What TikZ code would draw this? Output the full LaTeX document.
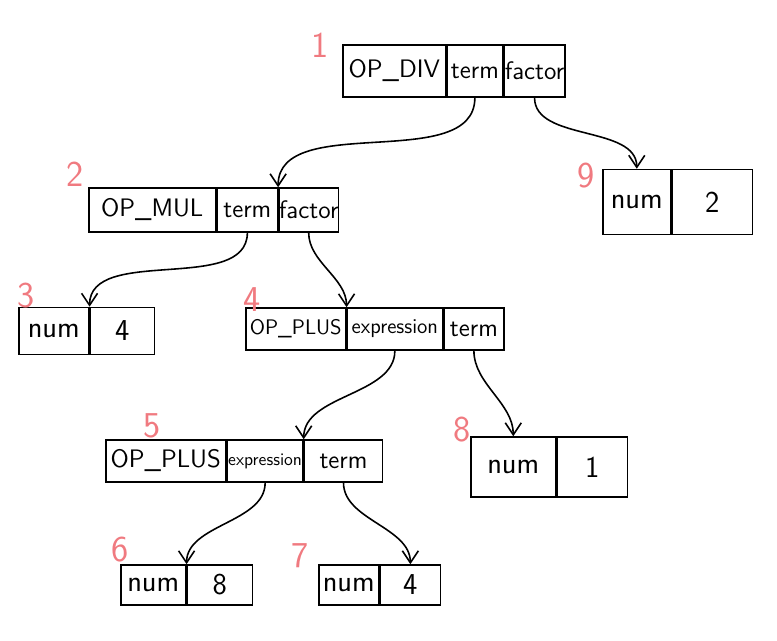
\documentclass[tikz,border=0pt]{standalone}
\usetikzlibrary{arrows.meta, positioning}
\definecolor{cpink}{HTML}{F07A80}
\tikzset{
  every picture/.style={font=\sffamily, line width=0.9pt},
  cell/.style={draw, inner sep=0.5pt, align=center, font=\sffamily\Large},
  leaf/.style={cell, font=\sffamily\LARGE},
  link/.style={-{Straight Barb[length=2.4mm, width=3.2mm]}, line width=0.9pt},
  tag/.style={font=\sffamily\huge, text=cpink},
}

\begin{document}
\begin{tikzpicture}[x=0.02cm, y=-0.02cm]
  \useasboundingbox (0,0) rectangle (777,640);
  % record 1
  \node[cell, anchor=west, minimum width=2.06cm, minimum height=1.04cm] (d-op) at (342,71) {OP\_DIV};
  \node[cell, right=0pt of d-op, minimum width=1.1cm, minimum height=1.04cm] (d-term) {term};
  \node[cell, right=0pt of d-term, minimum width=1.2cm, minimum height=1.04cm] (d-fac) {factor};
  % record 2
  \node[cell, anchor=west, minimum width=2.54cm, minimum height=0.88cm] (m-op) at (88,210) {OP\_MUL};
  \node[cell, right=0pt of m-op, minimum width=1.2cm, minimum height=0.88cm] (m-term) {term};
  \node[cell, right=0pt of m-term, minimum width=1.0cm, minimum height=0.88cm, inner sep=0pt] (m-fac) {factor};
  % record 3
  \node[leaf, anchor=west, minimum width=1.4cm, minimum height=0.94cm] (a-num) at (18,331) {num};
  \node[leaf, right=0pt of a-num, minimum width=1.28cm, minimum height=0.94cm] (a-val) {4};
  % record 4
  \node[cell, anchor=west, minimum width=2.0cm, minimum height=0.84cm, font=\sffamily\large] (p-op) at (245,329) {OP\_PLUS};
  \node[cell, right=0pt of p-op, minimum width=1.9cm, minimum height=0.84cm, font=\sffamily\large] (p-expr) {expression};
  \node[cell, right=0pt of p-expr, minimum width=1.2cm, minimum height=0.84cm] (p-term) {term};
  % record 5
  \node[cell, anchor=west, minimum width=2.4cm, minimum height=0.84cm] (q-op) at (105,461) {OP\_PLUS};
  \node[cell, right=0pt of q-op, minimum width=1.5cm, minimum height=0.84cm, font=\sffamily] (q-expr) {expression};
  \node[cell, right=0pt of q-expr, minimum width=1.56cm, minimum height=0.84cm] (q-term) {term};
  % leaves
  \node[leaf, anchor=west, minimum width=1.36cm, minimum height=1.3cm] (n-num) at (602,202) {num};
  \node[leaf, right=0pt of n-num, minimum width=1.6cm, minimum height=1.3cm] (n-val) {2};
  \node[leaf, anchor=west, minimum width=1.7cm, minimum height=1.2cm] (e-num) at (470,467) {num};
  \node[leaf, right=0pt of e-num, minimum width=1.4cm, minimum height=1.2cm] (e-val) {1};
  \node[leaf, anchor=west, minimum width=1.3cm, minimum height=0.8cm] (s-num) at (120,585) {num};
  \node[leaf, right=0pt of s-num, minimum width=1.3cm, minimum height=0.8cm] (s-val) {8};
  \node[leaf, anchor=west, minimum width=1.2cm, minimum height=0.8cm] (t-num) at (318,585) {num};
  \node[leaf, right=0pt of t-num, minimum width=1.2cm, minimum height=0.8cm] (t-val) {4};
  % numbers
  \node[tag] (lbl1) at (320,45) {1};
  \node[tag] (lbl2) at (75,174) {2};
  \node[tag] (lbl3) at (26,296) {3};
  \node[tag] (lbl4) at (252,300) {4};
  \node[tag] (lbl5) at (152,426) {5};
  \node[tag] (lbl6) at (120,550) {6};
  \node[tag] (lbl7) at (300,556) {7};
  \node[tag] (lbl8) at (462,430) {8};
  \node[tag] (lbl9) at (586,176) {9};
  % pointers
  \draw[link] (d-term.south) to[out=-90, in=90, looseness=0.9] (m-term.north east);
  \draw[link] (d-fac.south) to[out=-90, in=90, looseness=0.9] (n-num.north);
  \draw[link] (m-term.south) to[out=-90, in=90, looseness=0.9] (a-num.north east);
  \draw[link] (m-fac.south) to[out=-90, in=90, looseness=0.9] (p-expr.north west);
  \draw[link] (p-expr.south) to[out=-90, in=90, looseness=0.9] (q-term.north west);
  \draw[link] (p-term.south) to[out=-90, in=90, looseness=0.9] (e-num.north);
  \draw[link] (q-expr.south) to[out=-90, in=90, looseness=0.9] (s-num.north east);
  \draw[link] (q-term.south) to[out=-90, in=90, looseness=0.9] (t-val.north);
\end{tikzpicture}
\end{document}
